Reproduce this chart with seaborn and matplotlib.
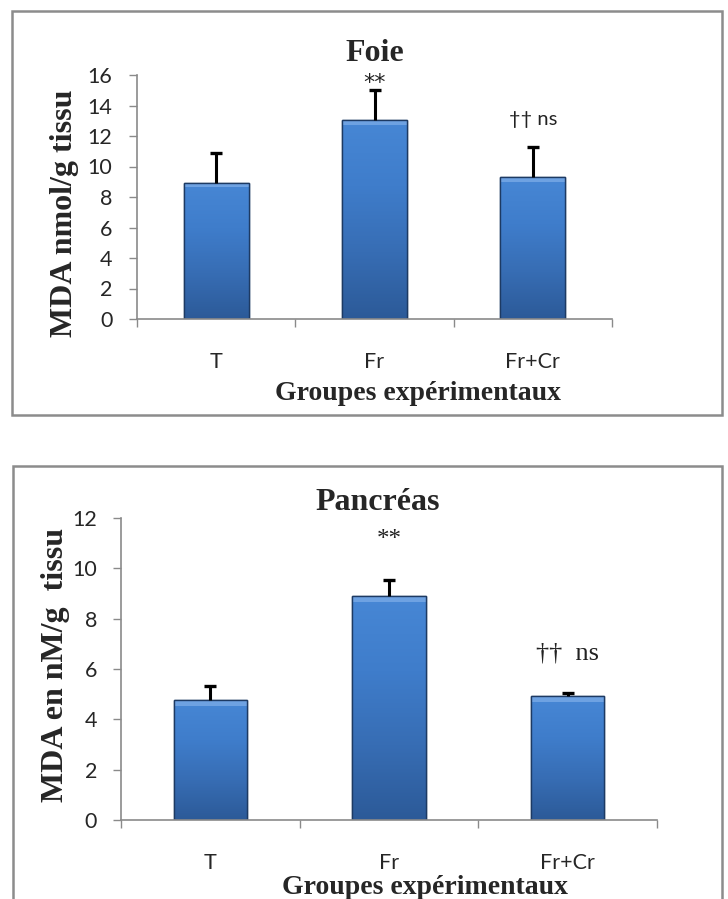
import numpy as np
import pandas as pd
import matplotlib
matplotlib.use("Agg")
import matplotlib.pyplot as plt
from matplotlib.patches import Rectangle
from matplotlib.colors import LinearSegmentedColormap
import seaborn as sns

# ---- data ----
groups = ["T", "Fr", "Fr+Cr"]

foie_mda = [8.95, 13.05, 9.30]
foie_err = [1.96, 1.97, 1.98]
foie_marks = ["", "**", "†† ns"]

panc_mda = [4.76, 8.89, 4.91]
panc_err = [0.55, 0.65, 0.15]
panc_marks = ["", "**", "††  ns"]

sns.set_theme(style="white")
plt.rcParams["font.family"] = ["Lato", "DejaVu Sans"]

W, H = 728, 899
fig = plt.figure(figsize=(W / 100, H / 100), dpi=100)

SERIF = ["Liberation Serif", "DejaVu Serif"]
SANS = ["Lato", "DejaVu Sans"]
STAR = ["DejaVu Sans"]
AXIS_GREY = "#8a8a8a"

bar_cmap = LinearSegmentedColormap.from_list(
    "bar", ["#2c5a98", "#376db4", "#3f7dcb", "#4787d5"])


def px_box(left, top, right, bottom):
    return [left / W, 1 - bottom / H, (right - left) / W, (bottom - top) / H]


def frame(left, top, right, bottom):
    fig.add_artist(Rectangle((left / W, 1 - bottom / H), (right - left) / W,
                             (bottom - top) / H, transform=fig.transFigure,
                             fill=False, edgecolor="#8c8c8c", linewidth=1.8))


def panel(box, values, errors, marks, ymax, title, ylabel, layout):
    ax = fig.add_axes(box)
    df = pd.DataFrame({"group": groups, "mda": values})
    sns.barplot(data=df, x="group", y="mda", ax=ax, width=0.41,
                color="#3f7ccb", edgecolor="#1d3a63", linewidth=1.0,
                errorbar=None, saturation=1)
    # vertical shading inside each bar, with a lighter bevel on top
    grad = np.linspace(0, 1, 256).reshape(-1, 1)
    for p in list(ax.patches):
        x0, y0 = p.get_x(), p.get_y()
        w, h = p.get_width(), p.get_height()
        im = ax.imshow(grad, cmap=bar_cmap, aspect="auto", origin="lower",
                       extent=[x0, x0 + w, y0, y0 + h], zorder=p.get_zorder() + 0.1)
        im.set_clip_path(p)
        ax.add_patch(Rectangle((x0, y0 + h - ymax * 0.02), w, ymax * 0.02,
                               facecolor="#6ea2e2", edgecolor="none",
                               zorder=p.get_zorder() + 0.2))
        ax.add_patch(Rectangle((x0, y0), w, h, facecolor="none",
                               edgecolor="#1d3a63", linewidth=1.0,
                               zorder=p.get_zorder() + 0.3))
    # upper error bars only, with a cap at the top
    xs = np.arange(len(groups))
    tops = np.array(values) + np.array(errors)
    ax.errorbar(xs, values, yerr=[np.zeros(len(errors)), errors],
                fmt="none", ecolor="black", elinewidth=2.2, capsize=0,
                zorder=5)
    ax.plot(xs, tops, linestyle="none", marker="_", markersize=9,
            markeredgewidth=2.4, color="black", zorder=5)
    for i, m in enumerate(marks):
        if m:
            ax.text(i, layout["mark_y"][i], m, ha="center", va="center",
                    fontsize=layout["mark_size"][i],
                    family=layout["mark_font"][i], color="#222222")

    ticks = np.arange(0, ymax + 0.1, 2)
    ax.set_xlim(-0.5, 2.5)
    ax.set_ylim(0, ymax)
    ax.set_yticks(ticks)
    ax.set_yticklabels([f"{int(t)}" for t in ticks], fontsize=15.5, family=SANS)
    ax.set_xticks([-0.5, 0.5, 1.5, 2.5])
    ax.set_xticklabels([])
    ax.set_xticks([0, 1, 2], minor=True)
    ax.set_xticklabels(groups, minor=True, fontsize=15.5, family=SANS)
    ax.tick_params(axis="x", which="major", direction="out", length=5.5,
                   width=1, color=AXIS_GREY, bottom=True)
    ax.tick_params(axis="x", which="minor", length=0, pad=layout["cat_pad"],
                   bottom=True)
    ax.tick_params(axis="y", which="major", direction="out", length=5.8,
                   width=1, color=AXIS_GREY, left=True, pad=layout["ytick_pad"])
    for s in ("top", "right"):
        ax.spines[s].set_visible(False)
    for s in ("left", "bottom"):
        ax.spines[s].set_color(AXIS_GREY)
        ax.spines[s].set_linewidth(1.2)

    ax.set_xlabel("Groupes expérimentaux", fontsize=20, fontweight="bold",
                  family=SERIF, va="center")
    ax.xaxis.set_label_coords(*layout["xlabel_at"])
    ax.set_ylabel(ylabel, fontsize=23, fontweight="bold", family=SERIF,
                  va="center")
    ax.yaxis.set_label_coords(*layout["ylabel_at"])
    ax.text(layout["title_at"][0], layout["title_at"][1], title,
            ha="center", va="center", fontsize=23, fontweight="bold",
            family=SERIF, clip_on=False)
    return ax


frame(12, 11, 722, 415)
frame(13, 466, 722, 905)

ax1 = panel(px_box(137, 75, 612, 319), foie_mda, foie_err, foie_marks, 16,
            "Foie", "MDA nmol/g tissu",
            dict(mark_y=[0, 15.45, 13.1], mark_size=[0, 16, 14.5],
                 mark_font=[SANS, STAR, SANS], cat_pad=24, ytick_pad=12,
                 xlabel_at=(0.592, -0.305), ylabel_at=(-0.152, 0.432),
                 title_at=(1.0, 17.4)))
ax2 = panel(px_box(121, 518, 657, 820), panc_mda, panc_err, panc_marks, 12,
            "Pancréas", "MDA en nM/g  tissu",
            dict(mark_y=[0, 11.12, 6.63], mark_size=[0, 18, 19],
                 mark_font=[SERIF, SERIF, SERIF], cat_pad=23.5, ytick_pad=11.5,
                 xlabel_at=(0.567, -0.222), ylabel_at=(-0.123, 0.513),
                 title_at=(0.938, 12.63)))

fig.savefig("out.png", dpi=100)
